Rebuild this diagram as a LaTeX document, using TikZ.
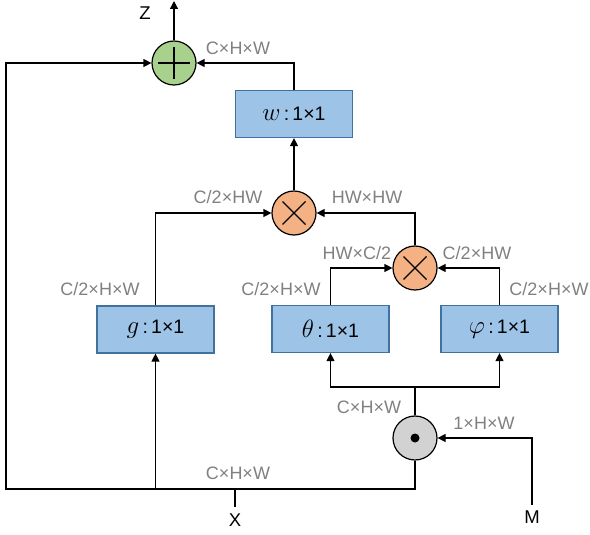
\RequirePackage{fix-cm}
\documentclass[tikz,border=0pt]{standalone}
\usepackage{fontspec}
\setmainfont{Liberation Sans}
\usetikzlibrary{arrows.meta}
\definecolor{boxfill}{RGB}{157,195,230}
\definecolor{boxline}{RGB}{65,113,156}
\definecolor{addfill}{RGB}{169,209,142}
\definecolor{mulfill}{RGB}{244,177,131}
\definecolor{dotfill}{RGB}{210,210,210}
\definecolor{lblgray}{RGB}{128,128,128}
\newcommand{\bigmath}[1]{{\fontsize{25}{27}\selectfont$#1$}}
\begin{document}
\begin{tikzpicture}[x=1pt,y=-1pt,
  conn/.style={line width=1.2pt,line join=miter},
  arr/.style={conn,-{Triangle[length=8pt,width=8pt]}},
  box/.style={draw=boxline,fill=boxfill,line width=1.2pt,minimum width=117pt,minimum height=47pt,inner sep=0pt,font=\fontsize{19.5}{22}\selectfont},
  opc/.style={circle,draw=black,line width=1.2pt,minimum size=44pt,inner sep=0pt},
  plusop/.style={opc,fill=addfill,path picture={
     \draw[black,line width=1.2pt] ([xshift=-16pt]path picture bounding box.center) -- ([xshift=16pt]path picture bounding box.center);
     \draw[black,line width=1.2pt] ([yshift=-16pt]path picture bounding box.center) -- ([yshift=16pt]path picture bounding box.center);}},
  mulop/.style={opc,fill=mulfill,path picture={
     \draw[black,line width=1.2pt] ([shift={(-11.5pt,-11.5pt)}]path picture bounding box.center) -- ([shift={(11.5pt,11.5pt)}]path picture bounding box.center);
     \draw[black,line width=1.2pt] ([shift={(-11.5pt,11.5pt)}]path picture bounding box.center) -- ([shift={(11.5pt,-11.5pt)}]path picture bounding box.center);}},
  dotop/.style={opc,fill=dotfill,path picture={
     \fill[black] (path picture bounding box.center) circle[radius=4.5pt];}},
  lbl/.style={text=lblgray,font=\fontsize{18}{21}\selectfont,inner sep=0pt},
  io/.style={text=black,font=\fontsize{18.5}{21}\selectfont,inner sep=0pt}]
\useasboundingbox (0,0) rectangle (590,535);

% operators
\node[plusop] (add) at (174,63) {};
\node[mulop] (mul1) at (294,213) {};
\node[mulop] (mul2) at (415,268) {};
\node[dotop] (dot) at (415,438) {};

% boxes
\node[box] (w) at (294,114) {\bigmath{w}\,:\,1×1};
\node[box] (g) at (155.5,329.5) {\bigmath{g}\,:\,1×1};
\node[box] (theta) at (330.5,329) {\bigmath{\theta}\,:\,1×1};
\node[box] (phi) at (499.5,329) {\bigmath{\varphi}\,:\,1×1};

% io labels
\node[io] (Z) at (145,13) {Z};
\node[io] (X) at (235,520) {X};
\node[io] (M) at (532,517) {M};

% coordinates
\coordinate (ze) at (174,1);
\coordinate (jr) at (415,489);
\coordinate (jl) at (6,489);
\coordinate (tl) at (6,63);
\coordinate (xj) at (235,489);
\coordinate (xe) at (235,507);
\coordinate (me) at (532,505);
\coordinate (sp) at (415,387);

% connectors
\draw[arr] (add.north) -- (ze);
\draw[arr] (dot.south) -- (jr) -- (jl) -- (tl) -- (add.west);
\draw[arr] (g.south |- jl) -- (g.south);
\draw[conn] (xe) -- (xj);
\draw[arr] (me) |- (dot.east);
\draw[conn] (dot.north) -- (sp);
\draw[arr] (sp) -| (theta.south);
\draw[arr] (sp) -| (phi.south);
\draw[arr] (theta.north) |- (mul2.west);
\draw[arr] (phi.north) |- (mul2.east);
\draw[arr] (g.north) |- (mul1.west);
\draw[arr] (mul2.north) |- (mul1.east);
\draw[arr] (mul1.north) -- (w.south);
\draw[arr] (w.north) |- (add.east);

% dimension labels
\node[lbl] (l1) at (238,48) {C×H×W};
\node[lbl] (l2) at (228,197) {C/2×HW};
\node[lbl] (l3) at (367,197) {HW×HW};
\node[lbl] (l4) at (357,253) {HW×C/2};
\node[lbl] (l5) at (477,253) {C/2×HW};
\node[lbl] (l6) at (100,289) {C/2×H×W};
\node[lbl] (l7) at (281,289) {C/2×H×W};
\node[lbl] (l8) at (549,289) {C/2×H×W};
\node[lbl] (l9) at (369,407) {C×H×W};
\node[lbl] (l10) at (484,423) {1×H×W};
\node[lbl] (l11) at (238,473) {C×H×W};
\end{tikzpicture}
\end{document}
